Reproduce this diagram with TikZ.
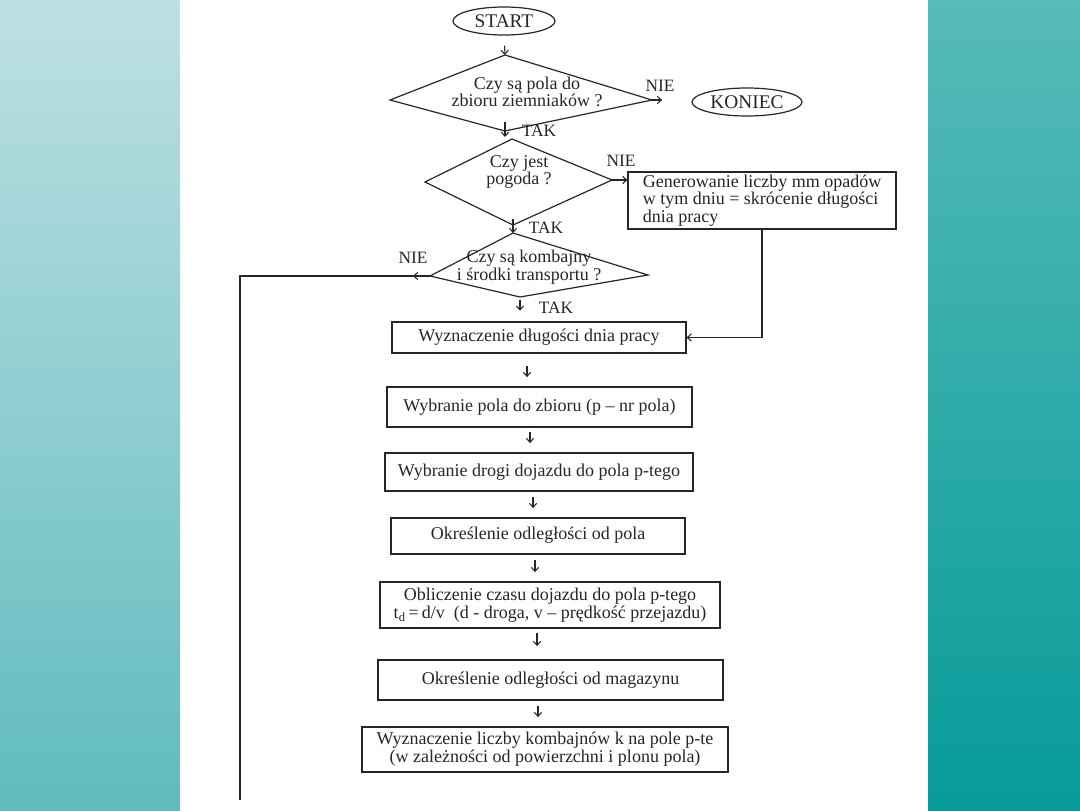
\documentclass[tikz,border=0pt]{standalone}
\usepackage{fontspec}
\setmainfont{Liberation Serif}
\usetikzlibrary{arrows.meta,shapes.geometric,calc}
\definecolor{ltop}{HTML}{BEE0E3}
\definecolor{lbot}{HTML}{60BBBE}
\definecolor{rtop}{HTML}{56BBBA}
\definecolor{rbot}{HTML}{079B98}
\definecolor{ink}{HTML}{262626}
\begin{document}
\begin{tikzpicture}[x=0.75pt,y=-0.75pt,
  line/.style={draw=ink,line width=0.9pt},
  arr/.style={draw=ink,line width=0.8pt,-{Straight Barb[length=3pt,width=5.5pt]}},
  gap/.style={shorten <=#1},
  txt/.style={text=ink,font=\fontsize{13.5}{11.5}\selectfont,align=center,inner sep=0pt},
  lbl/.style={text=ink,font=\fontsize{13}{13}\selectfont,inner sep=0pt},
  term/.style={ellipse,line,text=ink,font=\fontsize{14.5}{14.5}\selectfont,inner sep=0pt},
  box/.style={rectangle,line,text=ink,font=\fontsize{13.5}{11.5}\selectfont,align=center,inner sep=0pt}]
\useasboundingbox (0,0) rectangle (1080,810);
\shade[top color=ltop,bottom color=lbot] (0,0) rectangle (180,810);
\shade[top color=rtop,bottom color=rbot] (928,0) rectangle (1080,810);

% terminals
\node[term,minimum width=76.5pt,minimum height=21pt] (start) at (504,21) {START};
\node[term,minimum width=82.5pt,minimum height=21pt] (koniec) at (747,102) {KONIEC};

% decision 1
\coordinate (d1t) at (505,55);
\coordinate (d1l) at (390,100);
\coordinate (d1r) at (652,100);
\coordinate (d1b) at (505,131);
\draw[line] (d1t) -- (d1r) -- (d1b) -- (d1l) -- cycle;
\node[txt] (q1) at (527,92) {Czy są pola do\\zbioru ziemniaków ?};

% decision 2
\coordinate (d2t) at (512,139);
\coordinate (d2l) at (425,182);
\coordinate (d2r) at (612,180);
\coordinate (d2b) at (513,225);
\draw[line] (d2t) -- (d2r) -- (d2b) -- (d2l) -- cycle;
\node[txt] (q2) at (519,172) {Czy jest\\pogoda ?};

% decision 3
\coordinate (d3t) at (513,233);
\coordinate (d3l) at (430,276);
\coordinate (d3r) at (648,275);
\coordinate (d3b) at (520,297);
\draw[line] (d3t) -- (d3r) -- (d3b) -- (d3l) -- cycle;
\node[txt] (q3) at (529,267) {Czy są kombajny\\i środki transportu ?};

% side box
\node[box,minimum width=201pt,minimum height=42.75pt,align=left] (gen) at (762,200.5)
  {Generowanie liczby mm opadów\\w tym dniu = skrócenie długości\\dnia pracy};

% process boxes
\node[box,minimum width=220.5pt,minimum height=23.25pt] (wyz) at (539,337.5) {Wyznaczenie długości dnia pracy};
\node[box,minimum width=228.75pt,minimum height=30pt] (pola) at (539.5,407) {Wybranie pola do zbioru (p – nr pola)};
\node[box,minimum width=231pt,minimum height=28.5pt] (drogi) at (539,472) {Wybranie drogi dojazdu do pola p-tego};
\node[box,minimum width=220.5pt,minimum height=27pt] (odl) at (538,536) {\raisebox{4pt}{Określenie odległości od pola}};
\node[box,minimum width=255pt,minimum height=34.5pt] (czas) at (550,605) {Obliczenie czasu dojazdu do pola p-tego\\t\textsubscript{d}\,=\,d/v\ \ (d - droga, v – prędkość przejazdu)};
\node[box,minimum width=258.75pt,minimum height=30pt] (mag) at (550.5,680) {Określenie odległości od magazynu};
\node[box,minimum width=274.5pt,minimum height=33.75pt] (komb) at (545,749.5) {Wyznaczenie liczby kombajnów k na pole p-te\\(w zależności od powierzchni i plonu pola)};

% labels
\node[lbl] (n1) at (660,86) {NIE};
\node[lbl] (t1) at (539,131) {TAK};
\node[lbl] (n2) at (621,161) {NIE};
\node[lbl] (t2) at (546,228) {TAK};
\node[lbl] (n3) at (413,258) {NIE};
\node[lbl] (t3) at (556,308) {TAK};

% connectors
\draw[arr,gap=7.5pt] (start.south) -- (d1t);
\draw[arr,shorten >=22pt] (d1r) -- (d1r -| koniec.west);
\draw[arr] ($(d1b)+(0,-9)$) -- ($(d1b)+(0,6)$);
\draw[arr] (d2r) -- (d2r -| gen.west);
\draw[arr] ($(d2b)+(0,-6)$) -- (d2b |- d3t);
\draw[arr,gap=2pt,shorten >=8pt] (d3b) -- (d3b |- wyz.north);
\draw[arr] (gen.south) |- (wyz.east);
\draw[line] (d3l) -- (240,276) coordinate (lc) -- (240,800) coordinate (lend);
\draw[arr] (d3l) -- ++(-17,0);

\coordinate (c1) at (527,0);
\coordinate (c2) at (530,0);
\coordinate (c3) at (533,0);
\coordinate (c4) at (535,0);
\coordinate (c5) at (537,0);
\coordinate (c6) at (538,0);
\draw[arr,gap=9pt,shorten >=7pt] (wyz.south -| c1) -- (pola.north -| c1);
\draw[arr,gap=3pt,shorten >=7pt] (pola.south -| c2) -- (drogi.north -| c2);
\draw[arr,gap=4pt,shorten >=7pt] (drogi.south -| c3) -- (odl.north -| c3);
\draw[arr,gap=4pt,shorten >=7pt] (odl.south -| c4) -- (czas.north -| c4);
\draw[arr,gap=3pt,shorten >=10pt] (czas.south -| c5) -- (mag.north -| c5);
\draw[arr,gap=4pt,shorten >=7pt] (mag.south -| c6) -- (komb.north -| c6);
\end{tikzpicture}
\end{document}
